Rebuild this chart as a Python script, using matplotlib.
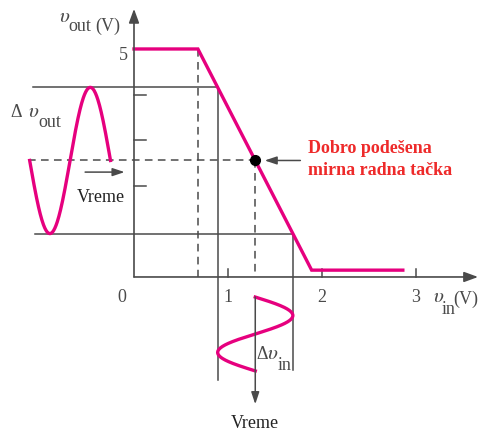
import numpy as np
import matplotlib.pyplot as plt

plt.rcParams["font.family"] = ["Liberation Serif", "DejaVu Serif"]
plt.rcParams["mathtext.fontset"] = "stix"

# transfer characteristic, volts
vin_pts = [0.0, 0.68, 1.89, 2.86]
vout_pts = [5.0, 5.0, 0.15, 0.15]
x_ticks = [1, 2, 3]
x_tick_labels = ["1", "2", "3"]
y_ticks = [2, 3, 4]

# operating point and signal swing
vin_q = 1.29
dvin = 0.40
out_time = [-1.11, -0.25]    # where the output wave is drawn (along vin)
in_time = [-0.44, -2.06]     # where the input wave is drawn (along vout)

PINK = "#e6007e"
GRAY = "#4a4a4a"
RED = "#ee2a2a"

vout_q = np.interp(vin_q, vin_pts, vout_pts)
vout_hi = np.interp(vin_q - dvin, vin_pts, vout_pts)
vout_lo = np.interp(vin_q + dvin, vin_pts, vout_pts)
dvout = (vout_hi - vout_lo) / 2

fig = plt.figure(figsize=(4.81, 4.39), dpi=100)
ax = fig.add_axes([0, 0, 1, 1])
ax.set_xlim(-1.4255, 3.6915)
ax.set_ylim(-3.531, 6.096)
ax.axis("off")

dash = (0, (5, 3.5))
arrow_big = dict(arrowstyle="-|>,head_length=0.6,head_width=0.22", color=GRAY,
                 lw=1.2, shrinkA=0, shrinkB=0, mutation_scale=14)
arrow_small = dict(arrowstyle="-|>,head_length=0.6,head_width=0.2", color=GRAY,
                   lw=1.1, shrinkA=0, shrinkB=0, mutation_scale=12)

# axes with arrows
ax.annotate("", xy=(3.66, 0), xytext=(0, 0), arrowprops=arrow_big)
ax.annotate("", xy=(0, 5.88), xytext=(0, 0), arrowprops=arrow_big)
for t in x_ticks:
    ax.plot([t, t], [0, 0.175], color=GRAY, lw=1.1)
for t in y_ticks:
    ax.plot([0, 0.128], [t, t], color=GRAY, lw=1.1)

# guide lines
ax.plot([-1.07, vin_q - dvin], [vout_hi, vout_hi], color=GRAY, lw=1.1)
ax.plot([-1.05, vin_q + dvin], [vout_lo, vout_lo], color=GRAY, lw=1.1)
ax.plot([-1.13, vin_q], [vout_q, vout_q], color=GRAY, lw=1.1, ls=dash)
ax.plot([vin_q - dvin, vin_q - dvin], [vout_hi, -2.26], color=GRAY, lw=1.1)
ax.plot([vin_q + dvin, vin_q + dvin], [vout_lo, -2.04], color=GRAY, lw=1.1)
ax.plot([vin_pts[1], vin_pts[1]], [vout_pts[1], 0], color=GRAY, lw=1.1, ls=dash)
ax.plot([vin_q, vin_q], [vout_q, 0], color=GRAY, lw=1.1, ls=dash)
ax.annotate("", xy=(vin_q, -2.79), xytext=(vin_q, in_time[0]), arrowprops=arrow_small)

# transfer curve
ax.plot(vin_pts, vout_pts, color=PINK, lw=2.4, solid_joinstyle="miter")

# input and output waves
s = np.linspace(0, 1, 200)
ax.plot(vin_q + dvin * np.sin(2 * np.pi * s),
        in_time[0] + (in_time[1] - in_time[0]) * s, color=PINK, lw=2.4)
ax.plot(out_time[0] + (out_time[1] - out_time[0]) * s,
        vout_q - dvout * np.sin(2 * np.pi * s), color=PINK, lw=2.4)

# operating point
ax.plot(vin_q, vout_q, "o", ms=7, color="black")
ax.annotate("", xy=(vin_q + 0.1, vout_q), xytext=(1.77, vout_q), arrowprops=arrow_small)
ax.annotate("", xy=(-0.10, 2.30), xytext=(-0.52, 2.30), arrowprops=arrow_small)

# labels
fs = 13
ax.text(-0.07, 4.78, "5", fontsize=fs, ha="right", va="baseline", color=GRAY)
ax.text(-0.128, -0.526, "0", fontsize=fs, ha="center", va="baseline", color=GRAY)
for t, lab in zip(x_ticks, x_tick_labels):
    ax.text(t, -0.526, lab, fontsize=fs, ha="center", va="baseline", color=GRAY)

ax.text(-0.80, 5.62, r"$\upsilon$", fontsize=fs + 2, ha="left", va="baseline", color=GRAY)
ax.text(-0.70, 5.42, "out", fontsize=fs, ha="left", va="baseline", color=GRAY)
ax.text(-0.41, 5.42, "(V)", fontsize=fs, ha="left", va="baseline", color=GRAY)

ax.text(-1.32, 3.52, "Δ", fontsize=fs, ha="left", va="baseline", color=GRAY)
ax.text(-1.13, 3.52, r"$\upsilon$", fontsize=fs + 2, ha="left", va="baseline", color=GRAY)
ax.text(-1.02, 3.32, "out", fontsize=fs, ha="left", va="baseline", color=GRAY)

ax.text(-0.35, 1.667, "Vreme", fontsize=fs, ha="center", va="baseline", color="#222222")
ax.text(vin_q, -3.29, "Vreme", fontsize=fs, ha="center", va="baseline", color="#222222")

ax.text(1.305, -1.78, "Δ", fontsize=fs, ha="left", va="baseline", color=GRAY)
ax.text(1.42, -1.78, r"$\upsilon$", fontsize=fs + 2, ha="left", va="baseline", color=GRAY)
ax.text(1.53, -2.02, "in", fontsize=fs, ha="left", va="baseline", color=GRAY)

ax.text(3.18, -0.52, r"$\upsilon$", fontsize=fs + 2, ha="left", va="baseline", color=GRAY)
ax.text(3.27, -0.78, "in", fontsize=fs, ha="left", va="baseline", color=GRAY)
ax.text(3.40, -0.58, "(V)", fontsize=fs, ha="left", va="baseline", color=GRAY)

ax.text(1.85, 2.74, "Dobro podešena", fontsize=13, fontweight="bold",
        color=RED, ha="left", va="baseline")
ax.text(1.85, 2.26, "mirna radna tačka", fontsize=13, fontweight="bold",
        color=RED, ha="left", va="baseline")

fig.savefig("out.png", dpi=100)
